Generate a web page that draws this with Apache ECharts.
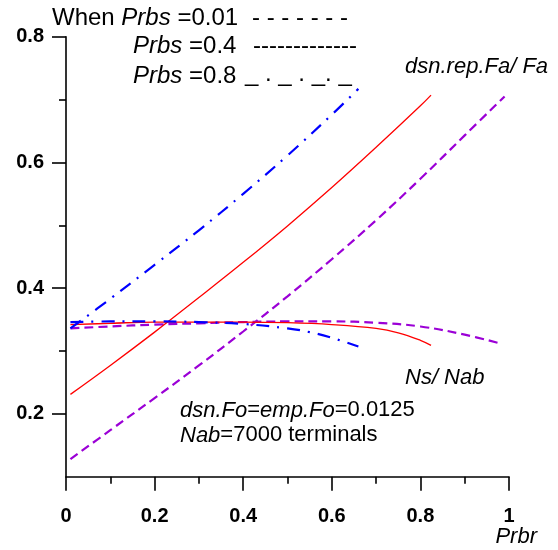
<!DOCTYPE html>
<html>
<head>
<meta charset="utf-8">
<script src="https://cdn.jsdelivr.net/npm/echarts@6/dist/echarts.min.js"></script>
<style>
html,body{margin:0;padding:0;background:#fff;}
#chart{width:558px;height:550px;}
</style>
</head>
<body>
<div id="chart"></div>
<script>
// Rising curves: dsn.rep.Fa/Fa
const xRise001 = [0.01,0.1,0.2,0.3,0.4,0.5,0.6,0.7,0.8,0.9,0.99];
const yRise001 = [0.128,0.174,0.225,0.277,0.331,0.387,0.446,0.508,0.574,0.643,0.705];
const xRise04 = [0.01,0.1,0.2,0.3,0.4,0.5,0.6,0.7,0.8,0.824];
const yRise04 = [0.231,0.277,0.330,0.385,0.441,0.499,0.560,0.624,0.690,0.707];
const xRise08 = [0.01,0.1,0.2,0.3,0.4,0.5,0.6,0.66];
const yRise08 = [0.336,0.383,0.437,0.492,0.550,0.611,0.676,0.717];
// Flat curves: Ns/Nab
const xFlat001 = [0.01,0.1,0.2,0.3,0.4,0.5,0.6,0.7,0.8,0.9,0.98];
const yFlat001 = [0.336,0.339,0.342,0.344,0.346,0.347,0.347,0.345,0.339,0.326,0.312];
const xFlat04 = [0.01,0.1,0.2,0.3,0.4,0.5,0.6,0.7,0.75,0.8,0.824];
const yFlat04 = [0.342,0.344,0.346,0.346,0.346,0.345,0.342,0.336,0.329,0.317,0.309];
const xFlat08 = [0.01,0.1,0.2,0.3,0.4,0.5,0.55,0.6,0.66];
const yFlat08 = [0.346,0.347,0.347,0.346,0.343,0.336,0.330,0.321,0.307];
// Ticks
const yMajorTicks = [0.2,0.4,0.6,0.8];
const yMinorTicks = [0.3,0.5,0.7];

const FONT = '"Liberation Sans", Arial, sans-serif';
const PURPLE = '#9b00d6';
const BLUE = '#0000ff';
const RED = '#ff0000';

function pairs(xs, ys){ return xs.map((x,i)=>[x, ys[i]]); }

const chart = echarts.init(document.getElementById('chart'), null, {renderer:'canvas'});

function mkSeries(xs, ys, color, width, type){
  return {
    type:'line', data: pairs(xs, ys), smooth: 0.4, symbol:'none',
    lineStyle:{color:color, width:width, type:type},
    xAxisIndex:0, yAxisIndex:0, silent:true, animation:false
  };
}

function rich(size){
  return {
    n:{fontFamily:FONT, fontSize:size, fill:'#000', lineHeight:size},
    i:{fontFamily:FONT, fontSize:size, fontStyle:'italic', fill:'#000', lineHeight:size}
  };
}
function txt(text, x, y, size, align){
  return {type:'text', x:x, y:y, silent:true,
    style:{text:text, rich:rich(size), fill:'#000', font:size+'px '+FONT, textAlign:align||'left', textVerticalAlign:'top'}};
}

chart.setOption({
  animation:false,
  backgroundColor:'#fff',
  grid:{left:66, right:49, top:36.7, bottom:73.3, containLabel:false},
  xAxis:[{
    type:'value', min:0, max:1, interval:0.2,
    axisLine:{show:true, onZero:false, lineStyle:{color:'#000', width:1.6}},
    axisTick:{show:true, length:14, lineStyle:{color:'#000', width:1.6}},
    minorTick:{show:true, splitNumber:2, length:7, lineStyle:{color:'#000', width:1.6}},
    splitLine:{show:false}, minorSplitLine:{show:false},
    axisLabel:{margin:30, color:'#000', fontFamily:FONT, fontSize:20, fontWeight:'bold'}
  }],
  yAxis:[{
    type:'value', min:0.1, max:0.8, interval:0.1, position:'left',
    axisLine:{show:true, onZero:false, lineStyle:{color:'#000', width:1.6}},
    axisTick:{show:true, length:14, customValues:yMajorTicks, lineStyle:{color:'#000', width:1.6}},
    splitLine:{show:false},
    axisLabel:{margin:22, customValues:yMajorTicks, color:'#000', fontFamily:FONT, fontSize:20, fontWeight:'bold'}
  },{
    type:'value', min:0.1, max:0.8, interval:0.1, position:'left', offset:0,
    axisLine:{show:false},
    axisTick:{show:true, length:7, customValues:yMinorTicks, lineStyle:{color:'#000', width:1.6}},
    splitLine:{show:false},
    axisLabel:{show:false}
  }],
  series:[
    mkSeries(xRise001, yRise001, PURPLE, 2.2, [9,5]),
    mkSeries(xFlat001, yFlat001, PURPLE, 2.2, [9,5]),
    mkSeries(xRise04, yRise04, RED, 1.3, 'solid'),
    mkSeries(xFlat04, yFlat04, RED, 1.3, 'solid'),
    mkSeries(xRise08, yRise08, BLUE, 2.2, [13,8,2,8]),
    mkSeries(xFlat08, yFlat08, BLUE, 2.2, [13,8,2,8])
  ],
  graphic:[
    txt('{n|When }{i|Prbs}{n| =0.01}', 52, 6.4, 24),
    txt('{n|- - - - - - -}', 252, 6.4, 24),
    txt('{i|Prbs}{n| =0.4}', 133, 34.7, 24),
    txt('{n|-------------}', 253, 34.7, 24),
    txt('{i|Prbs}{n| =0.8}', 133, 64.7, 24),
    txt('{n|_ . _ . _. _}', 245, 62.7, 24),
    txt('{i|dsn.rep.Fa/ Fa}', 405, 55.4, 22),
    txt('{i|Ns/ Nab}', 405, 367, 22),
    txt('{i|dsn.Fo}{n|=}{i|emp.Fo}{n|=0.0125}', 180, 399.4, 22),
    txt('{i|Nab}{n|=7000 terminals}', 180, 424.4, 22),
    txt('{i|Prbr}', 537, 526, 22, 'right')
  ]
});
</script>
</body>
</html>
